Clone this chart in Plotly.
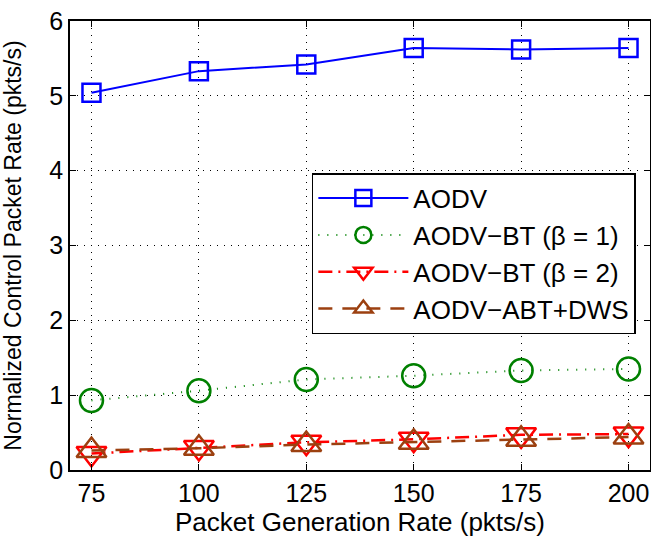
import plotly.graph_objects as go

rates = [75, 100, 125, 150, 175, 200]
aodv = [5.04, 5.33, 5.42, 5.64, 5.62, 5.64]
aodv_bt1 = [0.93, 1.06, 1.21, 1.26, 1.33, 1.35]
aodv_bt2 = [0.22, 0.30, 0.37, 0.41, 0.47, 0.48]
aodv_abt = [0.26, 0.29, 0.34, 0.37, 0.41, 0.44]

x_ticks = [75, 100, 125, 150, 175, 200]
y_ticks = [0, 1, 2, 3, 4, 5, 6]

FONT = "Liberation Sans, Arial, Helvetica, sans-serif"

fig = go.Figure()
fig.add_trace(go.Scatter(
    x=rates, y=aodv, name="AODV", mode="lines+markers",
    line=dict(color="#0000FF", width=2, dash="solid"),
    marker=dict(symbol="square-open", size=18, color="#0000FF", line=dict(width=2.5))))
fig.add_trace(go.Scatter(
    x=rates, y=aodv_bt1, name="AODV\u2212BT (\u03b2 = 1)", mode="lines+markers",
    line=dict(color="#008000", width=2, dash="1px,8px"),
    marker=dict(symbol="circle-open", size=23, color="#008000", line=dict(width=2.5))))
fig.add_trace(go.Scatter(
    x=rates, y=aodv_bt2, name="AODV\u2212BT (\u03b2 = 2)", mode="lines+markers",
    line=dict(color="#FF0000", width=2.5, dash="14px,6px,2px,6px"),
    marker=dict(symbol="triangle-down-open", size=26, color="#FF0000", line=dict(width=2.5))))
fig.add_trace(go.Scatter(
    x=rates, y=aodv_abt, name="AODV\u2212ABT+DWS", mode="lines+markers",
    line=dict(color="#9C4010", width=2.5, dash="14px,10px"),
    marker=dict(symbol="triangle-up-open", size=26, color="#9C4010", line=dict(width=2.5))))

axis_common = dict(
    showline=True, linecolor="black", linewidth=1.5, mirror="ticks",
    ticks="inside", ticklen=6, tickcolor="black", tickwidth=1,
    showgrid=True, gridcolor="black", gridwidth=1, griddash="1px,6px",
    zeroline=False, automargin=False, ticklabeloverflow="allow",
    tickfont=dict(family=FONT, size=25, color="black"),
)

fig.update_xaxes(
    range=[70, 205], tickvals=x_ticks,
    title=dict(text="Packet Generation Rate (pkts/s)", font=dict(family=FONT, size=26, color="black"), standoff=4),
    **axis_common)
fig.update_yaxes(
    range=[0, 6], tickvals=y_ticks,
    title=dict(text="Normalized Control Packet Rate (pkts/s)", font=dict(family=FONT, size=23, color="black"), standoff=26),
    **axis_common)

fig.update_layout(
    width=651, height=538,
    margin=dict(l=70, r=1, t=21, b=68),
    paper_bgcolor="white", plot_bgcolor="white",
    font=dict(family=FONT, color="black"),
    legend=dict(
        x=0.417, y=0.661, xanchor="left", yanchor="top",
        bgcolor="white", bordercolor="black", borderwidth=1.5,
        font=dict(family=FONT, size=26, color="black"),
        itemwidth=90, tracegroupgap=0,
    ),
)

# remove the browser's default 8px body margin so the figure fills the window
fig.write_html(
    "out.html",
    config={"displayModeBar": False},
    post_script="document.body.style.margin='0';document.body.style.overflow='hidden';",
)
